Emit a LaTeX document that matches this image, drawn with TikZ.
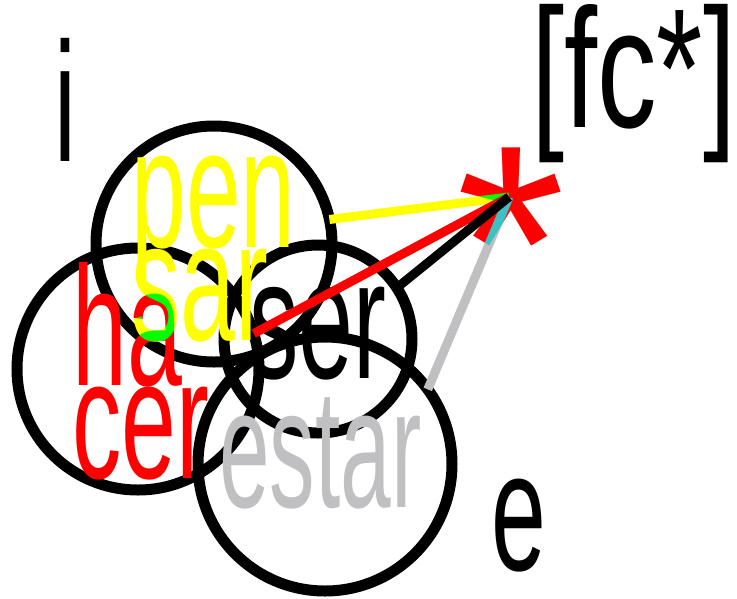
\documentclass[tikz,border=0pt]{standalone}
\usepackage{fontspec}
\newfontfamily\narrowsans[FakeStretch=0.58]{Liberation Sans}
\newfontfamily\slimsans[FakeStretch=0.535]{Liberation Sans}
\newfontfamily\widesans[FakeStretch=0.7]{Liberation Sans}
\newfontfamily\plainsans{Liberation Sans}
\definecolor{yel}{RGB}{255,255,0}
\definecolor{ash}{RGB}{192,192,194}

\begin{document}
\begin{tikzpicture}[x=1pt, y=-1pt,
    ring/.style={circle, draw, line width=11pt, inner sep=0pt, outer sep=0pt},
    word/.style={inner sep=0pt, anchor=base west, align=left,
      font={\narrowsans\fontsize{170}{93}\selectfont\lineskiplimit=-500pt}},
    link/.style={line width=9pt}]

  \useasboundingbox (0,0) rectangle (737,598);

  % circles
  \node[ring, minimum size=236pt] (pensar) at (214,244) {};
  \node[ring, minimum size=242pt] (hacer) at (138,369) {};
  \node[ring, minimum size=188pt] (ser) at (318,339) {};
  \node[ring, minimum size=254pt] (estar) at (325,464) {};

  % words (base = last line)
  \node[word] (ti) at (54,161) {i};
  \node[word, font=\widesans\fontsize{170}{93}\selectfont] (tfc) at (531,127) {[fc*]};
  \node[word] (te) at (491,570) {e};
  \node[word] (tser) at (249,378) {ser};
  \node[word, text=ash, font=\slimsans\fontsize{170}{93}\selectfont] (testar) at (219,507) {estar};
  \begin{scope}[transparency group]
    \node[word, text=yel] (tpensar) at (131,340) {pen\\sar};
    \node[word, text=red, blend mode=difference] (thacer) at (72,478) {ha\\cer};
  \end{scope}

  % star and links
  \coordinate (tip) at (509,197);
  \begin{scope}[transparency group]
    \node[text=red, inner sep=0pt,
      font=\plainsans\fontsize{280}{280}\selectfont] (star) at (511,244) {*};
    \draw[link, yel, blend mode=difference] (pensar.12) -- (tip);
    \draw[link, ash, blend mode=difference] (estar.36) -- (tip);
  \end{scope}
  \draw[link, red] (hacer.17) -- (tip);
  \draw[link] (ser.33) -- (tip);
\end{tikzpicture}
\end{document}
